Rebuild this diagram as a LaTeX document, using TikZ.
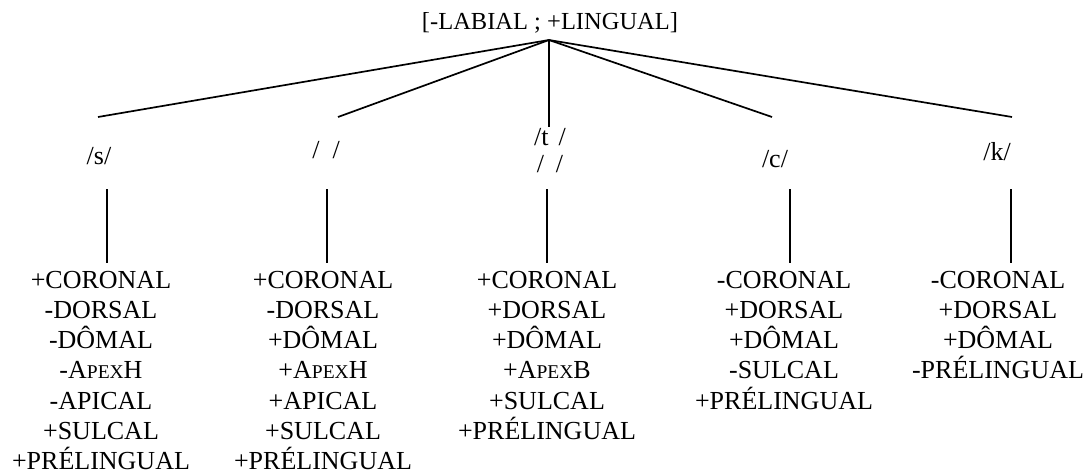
\documentclass[tikz,border=0pt]{standalone}
\usepackage{fontspec}
\setmainfont{Liberation Serif}
\usetikzlibrary{positioning}
\definecolor{fdink}{HTML}{000000}
\newcommand{\fdsmall}[1]{{\fontsize{19.5}{20}\selectfont #1}}
\tikzset{
  fdroot/.style={font=\fontsize{24.5}{28}\selectfont, inner sep=0pt, anchor=base},
  fdphon/.style={font=\fontsize{26}{28}\selectfont, inner sep=0pt, anchor=base},
  fdfeat/.style={font=\fontsize{26}{30.3}\selectfont, align=center, inner sep=0pt,
                 anchor=base},
  fdedge/.style={draw=fdink, line width=1.7pt},
}

\begin{document}
\begin{tikzpicture}[x=1pt,y=-1pt]
  \useasboundingbox (0,0) rectangle (1087,474);
  \node[fdroot] (root) at (550,29) {[-LABIAL ; +LINGUAL]};
  \coordinate (apex) at (549,40);

  % phonemes
  \node[fdphon] (ps) at (99,164) {/s/};
  \node[fdphon] (psh) at (326,158.5) {/\hspace{13pt}/};
  \node[fdphon] (ptsh) at (550,145) {/t\hspace{10pt}/};
  \node[fdphon] (ptsh2) at (550,172) {/\hspace{12pt}/};
  \node[fdphon] (pc) at (775,167) {/c/};
  \node[fdphon] (pk) at (997,160) {/k/};

  \coordinate (ps-in) at (98,117);
  \coordinate (psh-in) at (338,117);
  \coordinate (ptsh-in) at (549,127);
  \coordinate (pc-in) at (772,117);
  \coordinate (pk-in) at (1012,117);
  \draw[fdedge] (apex) -- (ps-in);
  \draw[fdedge] (apex) -- (psh-in);
  \draw[fdedge] (apex) -- (ptsh-in);
  \draw[fdedge] (apex) -- (pc-in);
  \draw[fdedge] (apex) -- (pk-in);

  % feature bundles (base = last line)
  \node[fdfeat] (fs) at (101,469.8) {+CORONAL\\-DORSAL\\-DÔMAL\\-A\fdsmall{PEX}H\\-APICAL\\+SULCAL\\+PRÉLINGUAL};
  \node[fdfeat] (fsh) at (323,469.8) {+CORONAL\\-DORSAL\\+DÔMAL\\+A\fdsmall{PEX}H\\+APICAL\\+SULCAL\\+PRÉLINGUAL};
  \node[fdfeat] (ftsh) at (547,439.5) {+CORONAL\\+DORSAL\\+DÔMAL\\+A\fdsmall{PEX}B\\+SULCAL\\+PRÉLINGUAL};
  \node[fdfeat] (fc) at (784,409.2) {-CORONAL\\+DORSAL\\+DÔMAL\\-SULCAL\\+PRÉLINGUAL};
  \node[fdfeat] (fk) at (998,378.9) {-CORONAL\\+DORSAL\\+DÔMAL\\-PRÉLINGUAL};

  \coordinate (ps-up) at (107,189);   \coordinate (fs-up) at (107,263);
  \coordinate (psh-up) at (327,189);  \coordinate (fsh-up) at (327,263);
  \coordinate (ptsh-up) at (547,189); \coordinate (ftsh-up) at (547,263);
  \coordinate (pc-up) at (790,189);   \coordinate (fc-up) at (790,263);
  \coordinate (pk-up) at (1011,189);  \coordinate (fk-up) at (1011,263);
  \draw[fdedge] (ps-up) -- (fs-up);
  \draw[fdedge] (psh-up) -- (fsh-up);
  \draw[fdedge] (ptsh-up) -- (ftsh-up);
  \draw[fdedge] (pc-up) -- (fc-up);
  \draw[fdedge] (pk-up) -- (fk-up);
\end{tikzpicture}
\end{document}
